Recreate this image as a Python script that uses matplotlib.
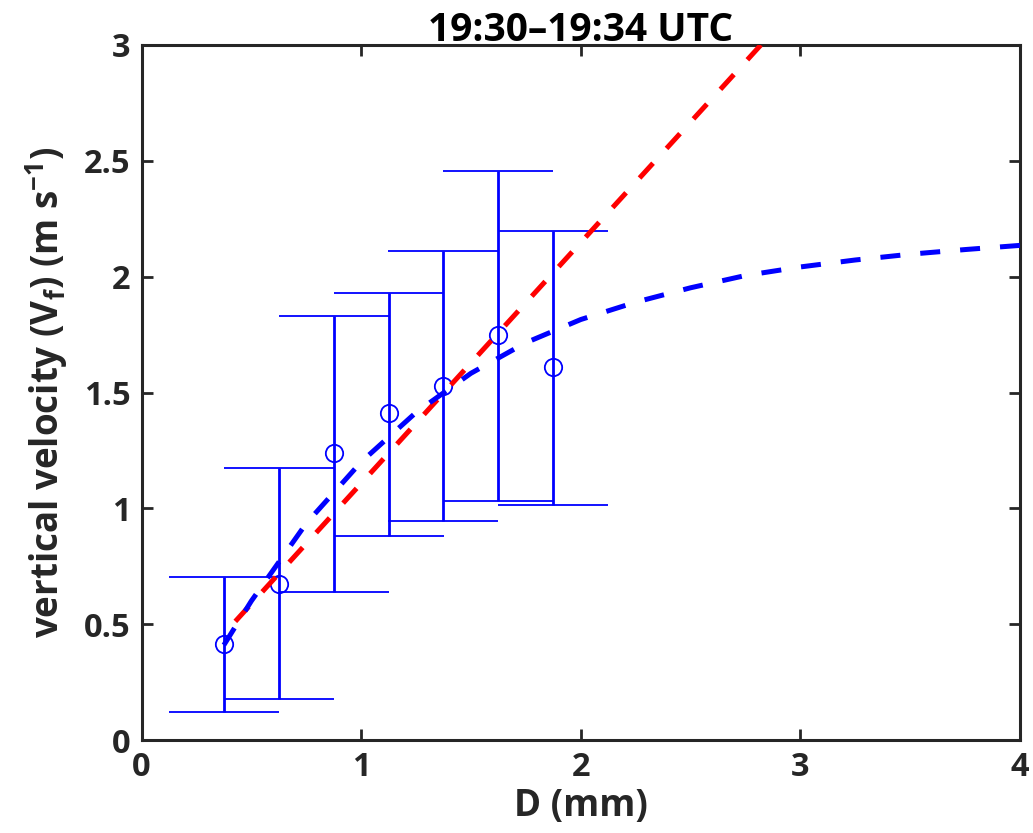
import numpy as np
import matplotlib
matplotlib.use("Agg")
import matplotlib.pyplot as plt

# binned fall speeds: bin centres, mean velocity, bar limits
diam = [0.375, 0.625, 0.875, 1.125, 1.375, 1.625, 1.875]
v_mean = [0.413, 0.673, 1.237, 1.410, 1.528, 1.748, 1.609]
v_upper = [0.705, 1.173, 1.832, 1.931, 2.110, 2.457, 2.198]
v_lower = [0.121, 0.177, 0.639, 0.882, 0.947, 1.033, 1.014]

# linear fit (red)
lin_d = [0.375, 2.82]
lin_v = [0.458, 3.0]

# empirical terminal velocity curve (blue)
curve_d = [0.375, 0.5, 0.75, 1.0, 1.25, 1.5, 1.75, 2.0, 2.25, 2.5,
           2.75, 3.0, 3.25, 3.5, 3.75, 4.0]
curve_v = [0.41, 0.60, 0.935, 1.200, 1.414, 1.583, 1.715, 1.815, 1.89,
           1.952, 2.005, 2.042, 2.072, 2.097, 2.117, 2.135]

plt.rcParams["font.family"] = ["Open Sans", "DejaVu Sans"]
plt.rcParams["font.weight"] = "bold"
plt.rcParams["mathtext.fontset"] = "custom"
plt.rcParams["mathtext.rm"] = "Open Sans:bold"
plt.rcParams["mathtext.it"] = "Open Sans:bold"
plt.rcParams["mathtext.bf"] = "Open Sans:bold"
plt.rcParams["mathtext.default"] = "bf"

dark = "#262626"

fig = plt.figure(figsize=(10.33, 8.33), dpi=100)
ax = fig.add_axes([0.137, 0.1116, 0.8504, 0.8344])

d = np.array(diam)
m = np.array(v_mean)
err = [m - np.array(v_lower), np.array(v_upper) - m]
ax.errorbar(d, m, yerr=err, fmt="o", color="blue", ecolor="blue",
            elinewidth=2.0, capsize=39.5, capthick=2.0, markersize=12.5,
            markerfacecolor="none", markeredgewidth=1.3, zorder=2)

# draw the fit from the top end so a dash meets the upper spine
ax.plot(lin_d[::-1], lin_v[::-1], color="red", lw=3.6, dashes=(4, 4), zorder=3)
ax.plot(curve_d, curve_v, color="blue", lw=3.6, dashes=(4, 4), zorder=4)

ax.set_xlim(0, 4)
ax.set_ylim(0, 3)
ax.set_xticks([0, 1, 2, 3, 4])
ax.set_yticks([0, 0.5, 1, 1.5, 2, 2.5, 3])
ax.set_yticklabels(["0", "0.5", "1", "1.5", "2", "2.5", "3"])

for s in ax.spines.values():
    s.set_linewidth(2.2)
    s.set_color(dark)
ax.tick_params(direction="in", length=8, width=2, colors=dark,
               labelsize=23.5, top=True, right=True, pad=8)
for lab in ax.get_xticklabels() + ax.get_yticklabels():
    lab.set_fontweight("bold")

ax.set_xlabel("D (mm)", fontsize=26.5, fontweight="bold", color=dark, labelpad=2)
ax.set_ylabel("vertical velocity (V$_f$) (m s$^{-1}$)", fontsize=26.5,
              fontweight="bold", color=dark, labelpad=10)
ax.set_title("19:30\u201319:34 UTC", fontsize=28, fontweight="bold",
             color="black", pad=3)

fig.savefig("out.png", dpi=100)
